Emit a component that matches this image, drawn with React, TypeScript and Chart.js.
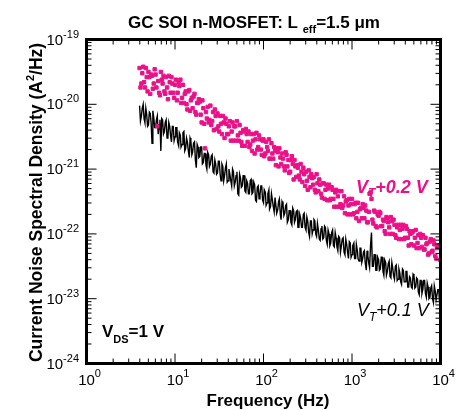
import React, { useEffect, useRef } from 'react';
import { Chart, registerables } from 'chart.js';

Chart.register(...registerables);

// Frequency (Hz), first sampling grid
const frequencies = [
  3.98, 4.17, 4.37, 4.57, 4.79, 5.01, 5.25, 5.5, 5.75, 6.03,
  6.31, 6.61, 6.92, 7.24, 7.59, 7.94, 8.32, 8.71, 9.12, 9.55,
  10.0, 10.5, 11.0, 11.5, 12.0, 12.6, 13.2, 13.8, 14.5, 15.1,
  15.8, 16.6, 17.4, 18.2, 19.1, 20.0, 20.9, 21.9, 22.9, 24.0,
  25.1, 26.3, 27.5, 28.8, 30.2, 31.6, 33.1, 34.7, 36.3, 38.0,
  39.8, 41.7, 43.7, 45.7, 47.9, 50.1, 52.5, 55.0, 57.5, 60.3,
  63.1, 66.1, 69.2, 72.4, 75.9, 79.4, 83.2, 87.1, 91.2, 95.5,
  100, 105, 110, 115, 120, 126, 132, 138, 145, 151,
  158, 166, 174, 182, 191, 200, 209, 219, 229, 240,
  251, 263, 275, 288, 302, 316, 331, 347, 363, 380,
  398, 417, 437, 457, 479, 501, 525, 550, 575, 603,
  631, 661, 692, 724, 759, 794, 832, 871, 912, 955,
  1000, 1050, 1100, 1150, 1200, 1260, 1320, 1380, 1450, 1510,
  1580, 1660, 1740, 1820, 1910, 2000, 2090, 2190, 2290, 2400,
  2510, 2630, 2750, 2880, 3020, 3160, 3310, 3470, 3630, 3800,
  3980, 4170, 4370, 4570, 4790, 5010, 5250, 5500, 5750, 6030,
  6310, 6610, 6920, 7240, 7590, 7940, 8320, 8710, 9120, 9550,
  9950,
];

// Frequency (Hz), intermediate sampling grid
const frequenciesMid = [
  4.07, 4.27, 4.47, 4.68, 4.9, 5.13, 5.37, 5.62, 5.89, 6.17,
  6.46, 6.76, 7.08, 7.41, 7.76, 8.13, 8.51, 8.91, 9.33, 9.77,
  10.2, 10.7, 11.2, 11.7, 12.3, 12.9, 13.5, 14.1, 14.8, 15.5,
  16.2, 17.0, 17.8, 18.6, 19.5, 20.4, 21.4, 22.4, 23.4, 24.5,
  25.7, 26.9, 28.2, 29.5, 30.9, 32.4, 33.9, 35.5, 37.2, 38.9,
  40.7, 42.7, 44.7, 46.8, 49.0, 51.3, 53.7, 56.2, 58.9, 61.7,
  64.6, 67.6, 70.8, 74.1, 77.6, 81.3, 85.1, 89.1, 93.3, 97.7,
  102, 107, 112, 117, 123, 129, 135, 141, 148, 155,
  162, 170, 178, 186, 195, 204, 214, 224, 234, 245,
  257, 269, 282, 295, 309, 324, 339, 355, 372, 389,
  407, 427, 447, 468, 490, 513, 537, 562, 589, 617,
  646, 676, 708, 741, 776, 813, 851, 891, 933, 977,
  1020, 1070, 1120, 1170, 1230, 1290, 1350, 1410, 1480, 1550,
  1620, 1700, 1780, 1860, 1950, 2040, 2140, 2240, 2340, 2450,
  2570, 2690, 2820, 2950, 3090, 3240, 3390, 3550, 3720, 3890,
  4070, 4270, 4470, 4680, 4900, 5130, 5370, 5620, 5890, 6170,
  6460, 6760, 7080, 7410, 7760, 8130, 8510, 8910, 9330, 9770,
];

// Current noise spectral density (A^2/Hz), V_T + 0.2 V (pink squares)
const psdVt02 = [
  3.63e-20, 2.09e-20, 3.8e-20, 1.82e-20, 2.63e-20, 3.16e-20, 1.45e-20, 2.75e-20, 2.09e-20, 2.88e-20,
  4.57e-21, 1.51e-20, 3.16e-20, 2.09e-20, 1.58e-20, 2.63e-20, 1.2e-20, 2.19e-20, 2.63e-20, 1.51e-20,
  2.0e-20, 1.15e-20, 2.19e-20, 2.4e-20, 1.26e-20, 1.05e-20, 1.58e-20, 8.32e-21, 1.66e-20, 1.15e-20,
  8.71e-21, 1.45e-20, 6.92e-21, 1.05e-20, 1.1e-20, 5.25e-21, 8.71e-21, 2.09e-21, 6.03e-21, 5.25e-21,
  9.55e-21, 5.5e-21, 3.98e-21, 6.61e-21, 7.24e-21, 3.8e-21, 5.01e-21, 6.61e-21, 3.02e-21, 5.01e-21,
  3.47e-21, 5.5e-21, 3.8e-21, 2.75e-21, 4.57e-21, 5.5e-21, 2.75e-21, 3.63e-21, 2.29e-21, 3.8e-21,
  4.17e-21, 2.63e-21, 2.19e-21, 3.47e-21, 2.75e-21, 1.74e-21, 3.63e-21, 2.19e-21, 2.88e-21, 1.66e-21,
  2.88e-21, 1.74e-21, 2.19e-21, 2.88e-21, 1.45e-21, 1.74e-21, 2.19e-21, 1.15e-21, 1.82e-21, 2.09e-21,
  1.2e-21, 1.45e-21, 9.55e-22, 1.66e-21, 1.38e-21, 9.12e-22, 1.58e-21, 6.92e-22, 1.1e-21, 1.15e-21,
  7.94e-22, 1.2e-21, 6.31e-22, 8.32e-22, 9.12e-22, 4.79e-22, 7.59e-22, 8.32e-22, 5.75e-22, 4.79e-22,
  8.32e-22, 4.57e-22, 5.75e-22, 3.63e-22, 6.03e-22, 4.79e-22, 3.31e-22, 5.75e-22, 3.47e-22, 4.79e-22,
  2.63e-22, 4.79e-22, 3.8e-22, 2.63e-22, 4.57e-22, 2.75e-22, 2.09e-22, 3.31e-22, 2.75e-22, 2.0e-22,
  3.47e-22, 2.09e-22, 3.02e-22, 2.19e-22, 1.58e-22, 2.51e-22, 2.88e-22, 1.74e-22, 2.29e-22, 1.51e-22,
  4.17e-22, 3.47e-22, 1.45e-22, 2.19e-22, 1.26e-22, 1.91e-22, 2.09e-22, 1.32e-22, 1.58e-22, 1.0e-22,
  1.74e-22, 1.26e-22, 1.82e-22, 1.0e-22, 1.38e-22, 8.71e-23, 1.38e-22, 1.15e-22, 8.32e-23, 1.38e-22,
  8.71e-23, 1.2e-22, 6.61e-23, 1.0e-22, 1.05e-22, 6.61e-23, 1.15e-22, 7.24e-23, 6.03e-23, 8.71e-23,
  9.55e-23, 5.75e-23, 6.92e-23, 4.79e-23, 7.59e-23, 5.25e-23, 7.94e-23, 4.57e-23, 6.03e-23, 6.61e-23,
  3.98e-23,
];

const psdVt02Mid = [
  1.82e-20, 3.02e-20, 2.19e-20, 3.63e-20, 1.58e-20, 2.63e-20, 2.88e-20, 1.74e-20, 3.47e-20, 1.82e-20,
  2.29e-20, 1.38e-20, 2.4e-20, 2.75e-20, 1.45e-20, 1.82e-20, 2.75e-20, 1.51e-20, 2.09e-20, 1.26e-20,
  2.4e-20, 1.51e-20, 1.91e-20, 1.05e-20, 2.0e-20, 1.45e-20, 1.0e-20, 1.58e-20, 7.94e-21, 1.26e-20,
  1.32e-20, 7.59e-21, 1.05e-20, 1.2e-20, 6.92e-21, 1.15e-20, 5.01e-21, 7.59e-21, 9.12e-21, 5.75e-21,
  4.79e-21, 7.59e-21, 8.32e-21, 4.17e-21, 4.57e-21, 6.61e-21, 3.47e-21, 5.25e-21, 6.03e-21, 3.47e-21,
  4.57e-21, 2.75e-21, 5.25e-21, 4.57e-21, 2.75e-21, 3.31e-21, 4.79e-21, 2.63e-21, 3.98e-21, 2.29e-21,
  3.47e-21, 3.8e-21, 2.4e-21, 1.91e-21, 3.47e-21, 2.88e-21, 2.0e-21, 3.31e-21, 2.0e-21, 2.75e-21,
  1.58e-21, 2.63e-21, 1.91e-21, 1.45e-21, 2.51e-21, 1.45e-21, 1.91e-21, 2.09e-21, 1.1e-21, 1.51e-21,
  1.74e-21, 1.1e-21, 1.82e-21, 1.1e-21, 8.71e-22, 1.38e-21, 1.2e-21, 1.38e-21, 7.59e-22, 1.05e-21,
  6.92e-22, 9.12e-22, 1.05e-21, 5.5e-22, 6.61e-22, 9.55e-22, 5.25e-22, 7.24e-22, 7.59e-22, 4.37e-22,
  6.03e-22, 6.92e-22, 4.17e-22, 6.03e-22, 3.47e-22, 5.75e-22, 5.01e-22, 3.31e-22, 5.25e-22, 3.47e-22,
  4.37e-22, 2.63e-22, 4.57e-22, 2.88e-22, 2.51e-22, 3.8e-22, 3.16e-22, 2.0e-22, 3.47e-22, 2.88e-22,
  2.0e-22, 2.88e-22, 1.74e-22, 3.02e-22, 2.4e-22, 1.74e-22, 2.51e-22, 2.75e-22, 1.51e-22, 2.19e-22,
  4.37e-22, 1.66e-22, 2.29e-22, 1.32e-22, 2.0e-22, 2.19e-22, 1.32e-22, 1.66e-22, 1.1e-22, 1.82e-22,
  1.51e-22, 1.0e-22, 1.58e-22, 1.66e-22, 9.55e-23, 1.26e-22, 8.32e-23, 1.38e-22, 1.2e-22, 8.32e-23,
  1.32e-22, 8.71e-23, 1.1e-22, 6.92e-23, 1.1e-22, 8.71e-23, 6.03e-23, 9.55e-23, 1.0e-22, 6.31e-23,
  5.75e-23, 8.71e-23, 7.24e-23, 5.01e-23, 8.32e-23, 5.5e-23, 6.92e-23, 4.17e-23, 6.31e-23, 6.61e-23,
];

// Current noise spectral density (A^2/Hz), V_T + 0.1 V (black line)
const psdVt01 = [
  9.55e-21, 6.61e-21, 1.0e-20, 5.25e-21, 6.92e-21, 4.79e-21, 7.24e-21, 2.51e-21, 6.31e-21, 4.37e-21,
  6.61e-21, 4.79e-21, 1.91e-21, 5.75e-21, 3.8e-21, 5.75e-21, 3.16e-21, 4.57e-21, 2.63e-21, 4.57e-21,
  3.16e-21, 4.37e-21, 2.29e-21, 3.31e-21, 2.4e-21, 3.8e-21, 2.09e-21, 2.63e-21, 1.51e-21, 2.75e-21,
  1.82e-21, 2.63e-21, 1.05e-21, 2.19e-21, 1.58e-21, 2.19e-21, 1.26e-21, 1.74e-21, 1.0e-21, 1.66e-21,
  1.2e-21, 1.66e-21, 8.71e-22, 1.2e-21, 8.71e-22, 1.32e-21, 6.61e-22, 1.1e-21, 7.94e-22, 1.2e-21,
  6.61e-22, 8.32e-22, 5.5e-22, 9.12e-22, 6.31e-22, 9.12e-22, 3.98e-22, 7.24e-22, 5.5e-22, 7.94e-22,
  4.37e-22, 6.03e-22, 4.17e-22, 6.92e-22, 4.37e-22, 5.75e-22, 3.16e-22, 5.5e-22, 3.98e-22, 5.5e-22,
  3.02e-22, 4.37e-22, 3.02e-22, 4.79e-22, 2.63e-22, 3.31e-22, 2.19e-22, 3.63e-22, 2.4e-22, 3.47e-22,
  1.66e-22, 2.88e-22, 2.09e-22, 2.88e-22, 1.66e-22, 2.29e-22, 1.38e-22, 2.29e-22, 1.66e-22, 2.29e-22,
  1.26e-22, 1.74e-22, 1.26e-22, 2.09e-22, 1.15e-22, 1.58e-22, 9.12e-23, 1.58e-22, 1.15e-22, 1.58e-22,
  9.12e-23, 1.15e-22, 7.94e-23, 1.32e-22, 8.71e-23, 1.26e-22, 6.92e-23, 1.0e-22, 7.24e-23, 1.15e-22,
  6.31e-23, 8.71e-23, 5.5e-23, 8.71e-23, 6.61e-23, 8.71e-23, 4.79e-23, 6.92e-23, 4.17e-23, 7.24e-23,
  4.79e-23, 7.24e-23, 4.17e-23, 5.5e-23, 3.8e-23, 6.03e-23, 4.17e-23, 5.5e-23, 2.75e-23, 4.57e-23,
  3.02e-23, 1.05e-22, 3.16e-23, 4.79e-23, 2.75e-23, 3.98e-23, 2.88e-23, 4.37e-23, 2.29e-23, 3.63e-23,
  2.63e-23, 3.8e-23, 2.09e-23, 3.02e-23, 2.0e-23, 3.31e-23, 2.0e-23, 2.51e-23, 1.66e-23, 2.75e-23,
  1.82e-23, 2.63e-23, 1.51e-23, 2.09e-23, 1.45e-23, 2.29e-23, 1.51e-23, 2.0e-23, 1.15e-23, 1.91e-23,
  1.38e-23, 1.91e-23, 1.05e-23, 1.51e-23, 1.05e-23, 1.58e-23, 8.71e-24, 1.32e-23, 9.55e-24, 1.38e-23,
  9.55e-24,
];

const psdVt01Mid = [
  5.5e-21, 8.71e-21, 6.03e-21, 8.71e-21, 4.57e-21, 7.59e-21, 5.25e-21, 7.94e-21, 4.37e-21, 5.75e-21,
  3.47e-21, 5.75e-21, 6.03e-21, 3.47e-21, 5.25e-21, 3.02e-21, 5.25e-21, 3.31e-21, 4.57e-21, 2.75e-21,
  4.37e-21, 2.63e-21, 3.63e-21, 2.19e-21, 3.63e-21, 1.91e-21, 3.02e-21, 2.0e-21, 3.02e-21, 1.66e-21,
  2.51e-21, 1.38e-21, 2.4e-21, 1.51e-21, 2.19e-21, 1.2e-21, 1.74e-21, 1.15e-21, 1.82e-21, 1.1e-21,
  1.58e-21, 9.12e-22, 1.38e-21, 8.32e-22, 1.32e-21, 8.32e-22, 1.2e-21, 6.61e-22, 1.05e-21, 6.31e-22,
  1.0e-21, 6.61e-22, 1.0e-21, 5.5e-22, 7.94e-22, 4.17e-22, 8.32e-22, 5.25e-22, 7.94e-22, 4.57e-22,
  6.61e-22, 4.17e-22, 6.61e-22, 4.17e-22, 6.31e-22, 3.31e-22, 5.25e-22, 3.47e-22, 5.5e-22, 3.31e-22,
  4.79e-22, 2.75e-22, 4.17e-22, 2.4e-22, 4.17e-22, 2.63e-22, 3.63e-22, 2.09e-22, 3.16e-22, 2.0e-22,
  3.16e-22, 1.91e-22, 2.75e-22, 1.51e-22, 2.29e-22, 1.51e-22, 2.51e-22, 1.51e-22, 2.19e-22, 1.26e-22,
  2.0e-22, 1.26e-22, 2.0e-22, 1.26e-22, 1.82e-22, 1.05e-22, 1.58e-22, 1.0e-22, 1.66e-22, 1.0e-22,
  1.45e-22, 8.32e-23, 1.2e-22, 8.32e-23, 1.32e-22, 7.94e-23, 1.15e-22, 6.61e-23, 1.05e-22, 6.61e-23,
  1.05e-22, 6.31e-23, 9.12e-23, 5.25e-23, 8.32e-23, 5.25e-23, 8.32e-23, 5.25e-23, 7.59e-23, 4.37e-23,
  6.61e-23, 4.17e-23, 6.92e-23, 4.17e-23, 6.03e-23, 3.63e-23, 5.25e-23, 3.63e-23, 5.5e-23, 3.47e-23,
  6.61e-23, 3.16e-23, 4.79e-23, 2.75e-23, 4.37e-23, 2.75e-23, 4.37e-23, 2.63e-23, 3.98e-23, 2.29e-23,
  3.47e-23, 2.19e-23, 3.63e-23, 2.29e-23, 3.16e-23, 1.91e-23, 2.88e-23, 1.82e-23, 2.88e-23, 1.82e-23,
  2.63e-23, 1.51e-23, 2.19e-23, 1.51e-23, 2.4e-23, 1.45e-23, 2.09e-23, 1.26e-23, 1.91e-23, 1.2e-23,
  1.91e-23, 1.2e-23, 1.74e-23, 1.0e-23, 1.45e-23, 1.0e-23, 1.58e-23, 9.55e-24, 1.38e-23, 8.71e-24,
];

// Axis decades (tick labels are 10^exponent)
const xTickExponents = [0, 1, 2, 3, 4];
const yTickExponents = [-24, -23, -22, -21, -20, -19];
const minorMultipliers = [2, 3, 4, 5, 6, 7, 8, 9];

const PINK = '#ec1088';
const FONT = '"Liberation Sans", Arial, Helvetica, sans-serif';

function mergeSeries(fa: number[], va: number[], fb: number[], vb: number[]) {
  const pts = fa.map((f, i) => ({ x: f, y: va[i] })).concat(fb.map((f, i) => ({ x: f, y: vb[i] })));
  pts.sort((p, q) => p.x - q.x);
  return pts;
}

type Seg = { t: string; size: number; bold?: boolean; italic?: boolean; dy?: number };

function segFont(s: Seg) {
  return `${s.italic ? 'italic ' : ''}${s.bold ? 'bold ' : ''}${s.size}px ${FONT}`;
}

function richWidth(ctx: CanvasRenderingContext2D, segs: Seg[]) {
  let w = 0;
  for (const s of segs) {
    ctx.font = segFont(s);
    w += ctx.measureText(s.t).width;
  }
  return w;
}

function drawRich(
  ctx: CanvasRenderingContext2D,
  segs: Seg[],
  x: number,
  y: number,
  align: 'left' | 'center' | 'right' = 'left'
) {
  const w = richWidth(ctx, segs);
  let cx = align === 'left' ? x : align === 'center' ? x - w / 2 : x - w;
  ctx.textAlign = 'left';
  ctx.textBaseline = 'alphabetic';
  for (const s of segs) {
    ctx.font = segFont(s);
    ctx.fillText(s.t, cx, y + (s.dy || 0));
    cx += ctx.measureText(s.t).width;
  }
}

const decorPlugin = {
  id: 'decor',
  afterDatasetsDraw(chart: any) {
    const { ctx, chartArea: a, scales } = chart;
    const xs = scales.x;
    const ys = scales.y;
    ctx.save();
    ctx.strokeStyle = '#000';
    ctx.fillStyle = '#000';
    ctx.lineWidth = 1;
    ctx.beginPath();
    for (let i = 0; i < xTickExponents.length; i++) {
      const base = Math.pow(10, xTickExponents[i]);
      const px = xs.getPixelForValue(base);
      ctx.moveTo(px, a.bottom);
      ctx.lineTo(px, a.bottom - 10);
      ctx.moveTo(px, a.top);
      ctx.lineTo(px, a.top + 10);
      if (i < xTickExponents.length - 1) {
        for (const m of minorMultipliers) {
          const p = xs.getPixelForValue(m * base);
          ctx.moveTo(p, a.bottom);
          ctx.lineTo(p, a.bottom - 5);
          ctx.moveTo(p, a.top);
          ctx.lineTo(p, a.top + 5);
        }
      }
    }
    for (let i = 0; i < yTickExponents.length; i++) {
      const base = Math.pow(10, yTickExponents[i]);
      const py = ys.getPixelForValue(base);
      ctx.moveTo(a.left, py);
      ctx.lineTo(a.left + 10, py);
      ctx.moveTo(a.right, py);
      ctx.lineTo(a.right - 10, py);
      if (i < yTickExponents.length - 1) {
        for (const m of minorMultipliers) {
          const p = ys.getPixelForValue(m * base);
          ctx.moveTo(a.left, p);
          ctx.lineTo(a.left + 5, p);
          ctx.moveTo(a.right, p);
          ctx.lineTo(a.right - 5, p);
        }
      }
    }
    ctx.stroke();

    ctx.lineWidth = 3;
    ctx.strokeRect(a.left, a.top, a.right - a.left, a.bottom - a.top);

    for (const e of xTickExponents) {
      const px = xs.getPixelForValue(Math.pow(10, e));
      ctx.font = `15px ${FONT}`;
      const w10 = ctx.measureText('10').width;
      drawRich(
        ctx,
        [
          { t: '10', size: 15 },
          { t: String(e), size: 11, dy: -8 },
        ],
        px - w10 / 2,
        385,
        'left'
      );
    }
    for (const e of yTickExponents) {
      const py = ys.getPixelForValue(Math.pow(10, e));
      drawRich(
        ctx,
        [
          { t: '10', size: 15 },
          { t: String(e), size: 11, dy: -7 },
        ],
        79,
        py + 5,
        'right'
      );
    }

    drawRich(
      ctx,
      [
        { t: 'GC SOI n-MOSFET: L ', size: 17, bold: true },
        { t: 'eff', size: 11, bold: true, dy: 5 },
        { t: '=1.5 μm', size: 17, bold: true },
      ],
      128,
      28,
      'left'
    );

    drawRich(ctx, [{ t: 'Frequency (Hz)', size: 17, bold: true }], 268, 406, 'center');

    ctx.save();
    ctx.translate(42, 202.5);
    ctx.rotate(-Math.PI / 2);
    drawRich(
      ctx,
      [
        { t: 'Current Noise Spectral Density (A', size: 17.5, bold: true },
        { t: '2', size: 11, bold: true, dy: -8 },
        { t: '/Hz)', size: 17.5, bold: true },
      ],
      0,
      0,
      'center'
    );
    ctx.restore();

    ctx.fillStyle = PINK;
    drawRich(
      ctx,
      [
        { t: 'V', size: 18, bold: true, italic: true },
        { t: 'T', size: 12, bold: true, italic: true, dy: 4 },
        { t: '+0.2 V', size: 18, bold: true, italic: true },
      ],
      356,
      193,
      'left'
    );
    ctx.fillStyle = '#000';
    drawRich(
      ctx,
      [
        { t: 'V', size: 18, italic: true },
        { t: 'T', size: 12, italic: true, dy: 5 },
        { t: '+0.1 V', size: 18, italic: true },
      ],
      357,
      316,
      'left'
    );
    drawRich(
      ctx,
      [
        { t: 'V', size: 17, bold: true },
        { t: 'DS', size: 11, bold: true, dy: 6 },
        { t: '=1 V', size: 17, bold: true },
      ],
      102,
      337,
      'left'
    );
    ctx.restore();
  },
};

export default function App() {
  const canvasRef = useRef<HTMLCanvasElement | null>(null);

  useEffect(() => {
    const canvas = canvasRef.current;
    if (!canvas) return;
    const chart = new Chart(canvas, {
      type: 'line',
      data: {
        datasets: [
          {
            label: 'VT+0.2 V',
            data: mergeSeries(frequencies, psdVt02, frequenciesMid, psdVt02Mid),
            showLine: false,
            pointStyle: 'rect',
            pointRadius: 2.4,
            pointBorderWidth: 1,
            borderColor: PINK,
            backgroundColor: PINK,
            pointBackgroundColor: PINK,
            pointBorderColor: PINK,
          },
          {
            label: 'VT+0.1 V',
            data: mergeSeries(frequencies, psdVt01, frequenciesMid, psdVt01Mid),
            borderColor: '#000',
            backgroundColor: '#000',
            borderWidth: 1.4,
            pointRadius: 0,
            tension: 0,
          },
        ],
      },
      options: {
        responsive: false,
        animation: false,
        events: [],
        layout: { padding: { left: 86.5, right: 18.5, top: 39.5, bottom: 46.5 } },
        scales: {
          x: { type: 'logarithmic', min: 1, max: 10000, display: false },
          y: { type: 'logarithmic', min: 1e-24, max: 1e-19, display: false },
        },
        plugins: {
          legend: { display: false },
          tooltip: { enabled: false },
          title: { display: false },
        },
      },
      plugins: [decorPlugin],
    } as any);
    return () => {
      chart.destroy();
    };
  }, []);

  return (
    <div style={{ position: 'fixed', left: 0, top: 0, width: 459, height: 410, background: '#fff' }}>
      <canvas ref={canvasRef} width={459} height={410} style={{ display: 'block' }} />
    </div>
  );
}
